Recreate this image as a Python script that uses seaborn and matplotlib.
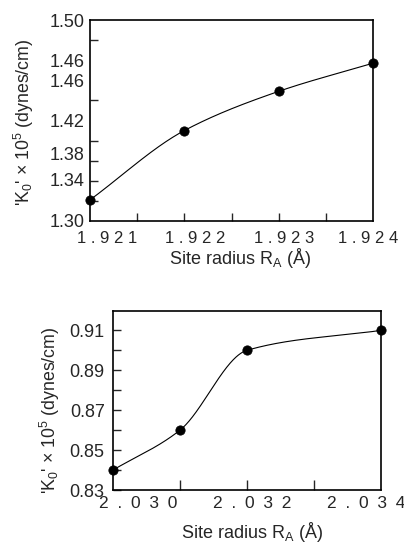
import numpy as np
import pandas as pd
import matplotlib
matplotlib.use("Agg")
import matplotlib.pyplot as plt
import seaborn as sns

# data
radius_top = [1.921, 1.922, 1.923, 1.924]
k0_top = [1.321, 1.390, 1.429, 1.457]
radius_bot = [2.030, 2.031, 2.032, 2.034]
k0_bot = [0.840, 0.860, 0.900, 0.910]

# tick labels as printed (the source figure has them slightly misplaced)
ytick_pos_top = [1.30, 1.341, 1.367, 1.40, 1.44, 1.46, 1.50]
ytick_lab_top = ["1.30", "1.34", "1.38", "1.42", "1.46", "1.46", "1.50"]
xlab_pos_top = [1.92118, 1.92212, 1.92306, 1.92395]
xlab_top = ["1.921", "1.922", "1.923", "1.924"]
xlab_pos_bot = [2.03037, 2.03207, 2.03378]
xlab_bot = ["2.030", "2.032", "2.034"]
ytick_bot = [0.83, 0.85, 0.87, 0.89, 0.91]

sns.set_style("ticks")
plt.rcParams["font.family"] = ["Liberation Sans", "DejaVu Sans"]
plt.rcParams["mathtext.fontset"] = "custom"
plt.rcParams["mathtext.rm"] = "Liberation Sans"
plt.rcParams["axes.linewidth"] = 1.2


def pchip(x, y, n=200):
    # monotone cubic curve through the measured points (display only)
    x = np.asarray(x, float)
    y = np.asarray(y, float)
    h = np.diff(x)
    d = np.diff(y) / h
    m = np.zeros_like(y)
    for k in range(1, len(x) - 1):
        if d[k - 1] * d[k] > 0:
            w1 = 2 * h[k] + h[k - 1]
            w2 = h[k] + 2 * h[k - 1]
            m[k] = (w1 + w2) / (w1 / d[k - 1] + w2 / d[k])
    m[0] = d[0]
    m[-1] = d[-1]
    xs, ys = [], []
    for k in range(len(x) - 1):
        t = np.linspace(0, 1, n)
        h00 = 2 * t**3 - 3 * t**2 + 1
        h10 = t**3 - 2 * t**2 + t
        h01 = -2 * t**3 + 3 * t**2
        h11 = t**3 - t**2
        xs.append(x[k] + t * h[k])
        ys.append(h00 * y[k] + h10 * h[k] * m[k] + h01 * y[k + 1] + h11 * h[k] * m[k + 1])
    return np.concatenate(xs), np.concatenate(ys)


ylab = "'K$\\mathregular{_0}$' × 10$\\mathregular{^5}$ (dynes/cm)"
xlab = "Site radius R$\\mathregular{_A}$ (Å)"

fig = plt.figure(figsize=(4.04, 5.45), dpi=100)
ax1 = fig.add_axes([0.2228, 0.5945, 0.7005, 0.3688])
ax2 = fig.add_axes([0.2797, 0.1009, 0.6634, 0.3285])

for ax, xr, yr in [(ax1, radius_top, k0_top), (ax2, radius_bot, k0_bot)]:
    cx, cy = pchip(xr, yr)
    sns.lineplot(x=cx, y=cy, ax=ax, color="black", linewidth=0.8, sort=False)
    sns.scatterplot(x=xr, y=yr, ax=ax, color="black", s=45, edgecolor="black", zorder=5, clip_on=False)
    for s in ax.spines.values():
        s.set_color("black")
        s.set_linewidth(1.2)

# top panel
ax1.set_xlim(1.921, 1.924)
ax1.set_ylim(1.30, 1.50)
ax1.set_xticks(xlab_pos_top)
ax1.set_xticklabels([" ".join(t) for t in xlab_top])
ax1.set_xticks(np.arange(1.9215, 1.9240, 0.0005), minor=True)
ax1.set_yticks(ytick_pos_top)
ax1.set_yticklabels(ytick_lab_top)
ax1.set_yticks(np.arange(1.32, 1.49, 0.02), minor=True)
ax1.tick_params(axis="x", which="major", direction="in", length=0, labelsize=12, pad=7)
ax1.tick_params(axis="x", which="minor", direction="in", length=6, width=1)
ax1.tick_params(axis="y", which="major", direction="in", length=0, labelsize=13, pad=4)
ax1.tick_params(axis="y", which="minor", direction="in", length=6, width=1)
ax1.set_xlabel(xlab, fontsize=13)
ax1.set_ylabel(ylab, fontsize=12.8)
ax1.xaxis.set_label_coords(0.53, -0.125)
ax1.yaxis.set_label_coords(-0.19, 0.49)

# bottom panel
ax2.set_xlim(2.030, 2.034)
ax2.set_ylim(0.83, 0.9197)
ax2.set_xticks(xlab_pos_bot)
ax2.set_xticklabels(["\u2002".join(t) for t in xlab_bot])
ax2.set_xticks([2.031, 2.032, 2.033], minor=True)
ax2.set_yticks(ytick_bot)
ax2.set_yticklabels([f"{v:.2f}" for v in ytick_bot])
ax2.set_yticks([0.84, 0.86, 0.88, 0.90], minor=True)
ax2.tick_params(axis="x", which="major", direction="in", length=0, labelsize=12.5, pad=4)
ax2.tick_params(axis="x", which="minor", direction="in", length=7, width=1)
ax2.tick_params(axis="y", which="both", direction="in", length=6, width=1, labelsize=13, pad=6)
ax2.set_xlabel(xlab, fontsize=13)
ax2.set_ylabel(ylab, fontsize=12.8)
ax2.xaxis.set_label_coords(0.52, -0.165)
ax2.yaxis.set_label_coords(-0.19, 0.447)

fig.savefig("out.png", dpi=100)
plt.close(fig)
